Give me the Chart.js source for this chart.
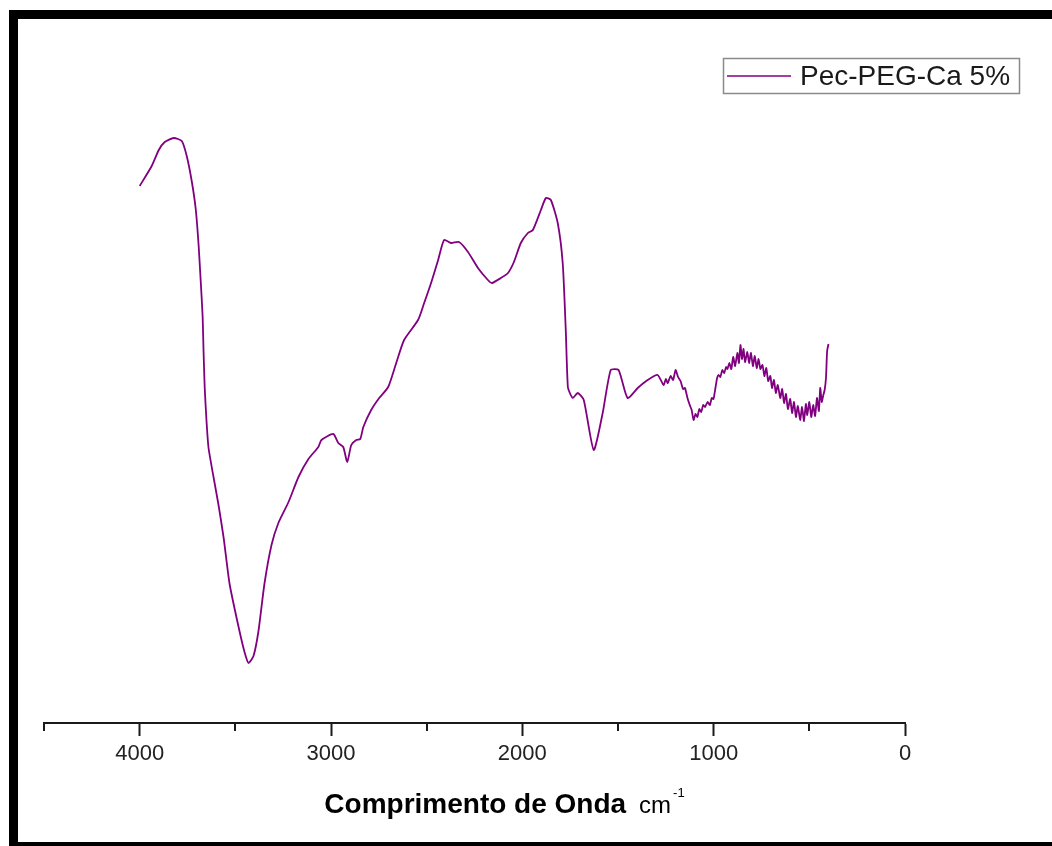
<!DOCTYPE html>
<html>
<head>
<meta charset="utf-8">
<title>Pec-PEG-Ca 5% - FTIR</title>
<script src="https://cdn.jsdelivr.net/npm/chart.js@4/dist/chart.umd.min.js"></script>
<style>
  html, body { margin: 0; padding: 0; background: #fff; overflow: hidden; }
  body { width: 1052px; height: 846px; position: relative; }
  #frame {
    position: absolute; left: 9px; top: 10px;
    width: 1100px; height: 841px;
    box-sizing: border-box;
    border: 9px solid #000;
    background: #fff;
  }
  #plot { position: absolute; left: 18px; top: 19px; }
</style>
</head>
<body>
<div id="frame"></div>
<canvas id="plot" width="1034" height="823"></canvas>
<script>
// Wavenumber (cm-1) of each sampled point along the spectrum
const waveNumbers = [
  4000, 3937, 3900, 3869, 3822, 3780, 3754, 3728, 3707, 3692,
  3681, 3671, 3666, 3660, 3650, 3640, 3614, 3587, 3561, 3530,
  3483, 3452, 3431, 3405, 3379, 3348, 3311, 3275, 3222, 3170,
  3118, 3066, 3050, 2988, 2962, 2936, 2915, 2894, 2868, 2847,
  2831, 2790, 2748, 2701, 2659, 2618, 2545, 2513, 2477, 2440,
  2409, 2373, 2331, 2284, 2232, 2180, 2159, 2112, 2075, 2044,
  2008, 1971, 1945, 1903, 1877, 1851, 1815, 1789, 1773, 1762,
  1747, 1736, 1710, 1679, 1627, 1580, 1538, 1497, 1450, 1397,
  1345, 1293, 1262, 1250, 1240, 1225, 1212, 1199, 1186, 1173,
  1160, 1150, 1137, 1125, 1115, 1105, 1095, 1085, 1075, 1065,
  1055, 1045, 1032, 1020, 1010, 1001, 990, 982, 975, 965,
  955, 945, 935, 928, 918, 908, 898, 888, 876, 868,
  860, 852, 844, 836, 824, 815, 805, 795, 785, 775,
  765, 756, 745, 735, 725, 715, 704, 695, 685, 675,
  665, 652, 642, 632, 622, 612, 600, 590, 580, 570,
  560, 548, 538, 528, 518, 511, 500, 490, 480, 470,
  460, 450, 443, 435, 428, 420, 413, 407, 400
];

// Transmittance (arbitrary units) at each wavenumber above
const transmittance = [
  53.7, 55.7, 57.3, 58.1, 58.5, 58.2, 56.7, 54.2, 51.4, 47.8,
  44.2, 40.7, 37.1, 33.5, 30.0, 27.5, 24.6, 21.7, 18.5, 13.9,
  9.6, 7.1, 6.0, 6.7, 9.2, 13.9, 17.8, 20.0, 22.1, 24.6,
  26.4, 27.6, 28.3, 28.9, 28.0, 27.6, 26.1, 27.8, 28.3, 28.4,
  29.6, 31.3, 32.5, 33.6, 36.0, 38.3, 40.3, 42.0, 44.0, 46.3,
  48.3, 48.0, 48.1, 47.1, 45.5, 44.3, 44.0, 44.5, 45.0, 46.1,
  48.0, 49.0, 49.3, 51.3, 52.5, 52.3, 50.0, 46.0, 39.3, 33.6,
  32.8, 32.5, 33.0, 32.3, 27.3, 31.0, 35.3, 35.3, 32.5, 33.5,
  34.3, 34.8, 33.8, 34.4, 34.0, 34.7, 34.3, 35.3, 34.6, 34.2,
  33.4, 33.5, 32.5, 31.8, 31.3, 30.3, 30.9, 30.6, 31.4, 31.1,
  31.8, 31.6, 32.1, 31.8, 32.5, 32.4, 33.6, 34.5, 34.8, 34.6,
  35.3, 35.0, 35.6, 35.4, 36.0, 35.4, 36.6, 35.7, 37.0, 36.0,
  37.8, 36.4, 37.4, 36.1, 37.1, 36.0, 37.0, 35.7, 36.7, 35.5,
  36.4, 35.4, 35.8, 34.7, 35.5, 34.2, 34.7, 33.5, 34.3, 33.0,
  33.8, 32.5, 33.4, 32.0, 32.9, 31.4, 32.4, 31.0, 32.1, 30.6,
  31.7, 30.3, 31.6, 30.2, 31.9, 30.8, 32.1, 30.6, 31.8, 30.7,
  32.5, 31.2, 33.5, 32.1, 32.7, 33.3, 34.5, 37.2, 37.9
];

const seriesLabel = 'Pec-PEG-Ca 5%';
const majorTicks = [4000, 3000, 2000, 1000, 0];
const minorTicks = [4500, 3500, 2500, 1500, 500];
const axisTitle = 'Comprimento de Onda';
const axisUnit = 'cm';
const axisUnitPower = '-1';

const lineColor = '#800080';
const inkColor = '#1a1a1a';
const fontFamily = '"Liberation Sans", Arial, sans-serif';

const points = waveNumbers.map((w, i) => ({ x: w, y: transmittance[i] }));

// Short ticks halfway between the labelled ones
const minorTickPlugin = {
  id: 'minorTicks',
  afterDraw(chart) {
    const sx = chart.scales.x;
    const ctx = chart.ctx;
    const y0 = chart.chartArea.bottom;
    ctx.save();
    ctx.strokeStyle = inkColor;
    ctx.lineWidth = 2;
    minorTicks.forEach(v => {
      const px = Math.round(sx.getPixelForValue(v));
      ctx.beginPath();
      ctx.moveTo(px, y0);
      ctx.lineTo(px, y0 + 8);
      ctx.stroke();
    });
    ctx.restore();
  }
};

// Axis title with bold name, plain unit and raised exponent
const axisTitlePlugin = {
  id: 'axisTitle',
  afterDraw(chart) {
    const ctx = chart.ctx;
    const area = chart.chartArea;
    const boldFont = 'bold 28px ' + fontFamily;
    const unitFont = '24px ' + fontFamily;
    const supFont = '13px ' + fontFamily;
    ctx.save();
    ctx.fillStyle = '#000';
    ctx.textBaseline = 'alphabetic';
    ctx.font = boldFont;
    const wName = ctx.measureText(axisTitle).width;
    ctx.font = unitFont;
    const wUnit = ctx.measureText(axisUnit).width;
    ctx.font = supFont;
    const wSup = ctx.measureText(axisUnitPower).width;
    const gap = 13;
    const total = wName + gap + wUnit + 2 + wSup;
    const cx = (area.left + area.right) / 2 + 30;
    const baseY = area.bottom + 90;
    let x = cx - total / 2;
    ctx.textAlign = 'left';
    ctx.font = boldFont;
    ctx.fillText(axisTitle, x, baseY);
    x += wName + gap;
    ctx.font = unitFont;
    ctx.fillText(axisUnit, x, baseY);
    x += wUnit + 2;
    ctx.font = supFont;
    ctx.fillText(axisUnitPower, x, baseY - 16);
    ctx.restore();
  }
};

// Boxed legend in the upper right corner
const boxedLegendPlugin = {
  id: 'boxedLegend',
  afterDraw(chart) {
    const ctx = chart.ctx;
    const ds = chart.data.datasets[0];
    const bx = 705, by = 39, bw = 296, bh = 35;
    ctx.save();
    ctx.fillStyle = '#fff';
    ctx.fillRect(bx, by, bw, bh);
    ctx.strokeStyle = '#8a8a8a';
    ctx.lineWidth = 1.5;
    ctx.strokeRect(bx + 0.5, by + 0.5, bw, bh);
    ctx.strokeStyle = ds.borderColor;
    ctx.lineWidth = 1.6;
    ctx.beginPath();
    ctx.moveTo(bx + 4, by + 18);
    ctx.lineTo(bx + 68, by + 18);
    ctx.stroke();
    ctx.fillStyle = inkColor;
    ctx.font = '28px ' + fontFamily;
    ctx.textBaseline = 'middle';
    ctx.textAlign = 'left';
    ctx.fillText(ds.label, bx + 77, by + 19);
    ctx.restore();
  }
};

new Chart(document.getElementById('plot'), {
  type: 'line',
  data: {
    datasets: [{
      label: seriesLabel,
      data: points,
      borderColor: lineColor,
      borderWidth: 1.8,
      pointRadius: 0,
      tension: 0.2,
      fill: false
    }]
  },
  options: {
    responsive: false,
    animation: false,
    devicePixelRatio: 1,
    layout: { padding: { left: 26, right: 147, top: 4, bottom: 0 } },
    plugins: { legend: { display: false }, tooltip: { enabled: false } },
    scales: {
      x: {
        type: 'linear',
        reverse: true,
        min: 0,
        max: 4500,
        afterBuildTicks(scale) {
          scale.ticks = majorTicks.concat(minorTicks)
            .sort((a, b) => a - b)
            .map(v => ({ value: v }));
        },
        afterFit(scale) { scale.height = 119; },
        border: { display: true, color: inkColor, width: 2 },
        grid: {
          display: true,
          drawOnChartArea: false,
          drawTicks: true,
          tickLength: 13,
          tickWidth: 2,
          tickColor: ctx => (majorTicks.includes(ctx.tick.value) ? inkColor : 'rgba(0,0,0,0)')
        },
        ticks: {
          autoSkip: false,
          maxRotation: 0,
          padding: 5,
          color: '#222',
          font: { family: fontFamily, size: 22 },
          callback: v => (majorTicks.includes(v) ? String(v) : '')
        },
        title: { display: false }
      },
      y: {
        display: false,
        min: 0,
        max: 70
      }
    }
  },
  plugins: [minorTickPlugin, axisTitlePlugin, boxedLegendPlugin]
});
</script>
</body>
</html>
